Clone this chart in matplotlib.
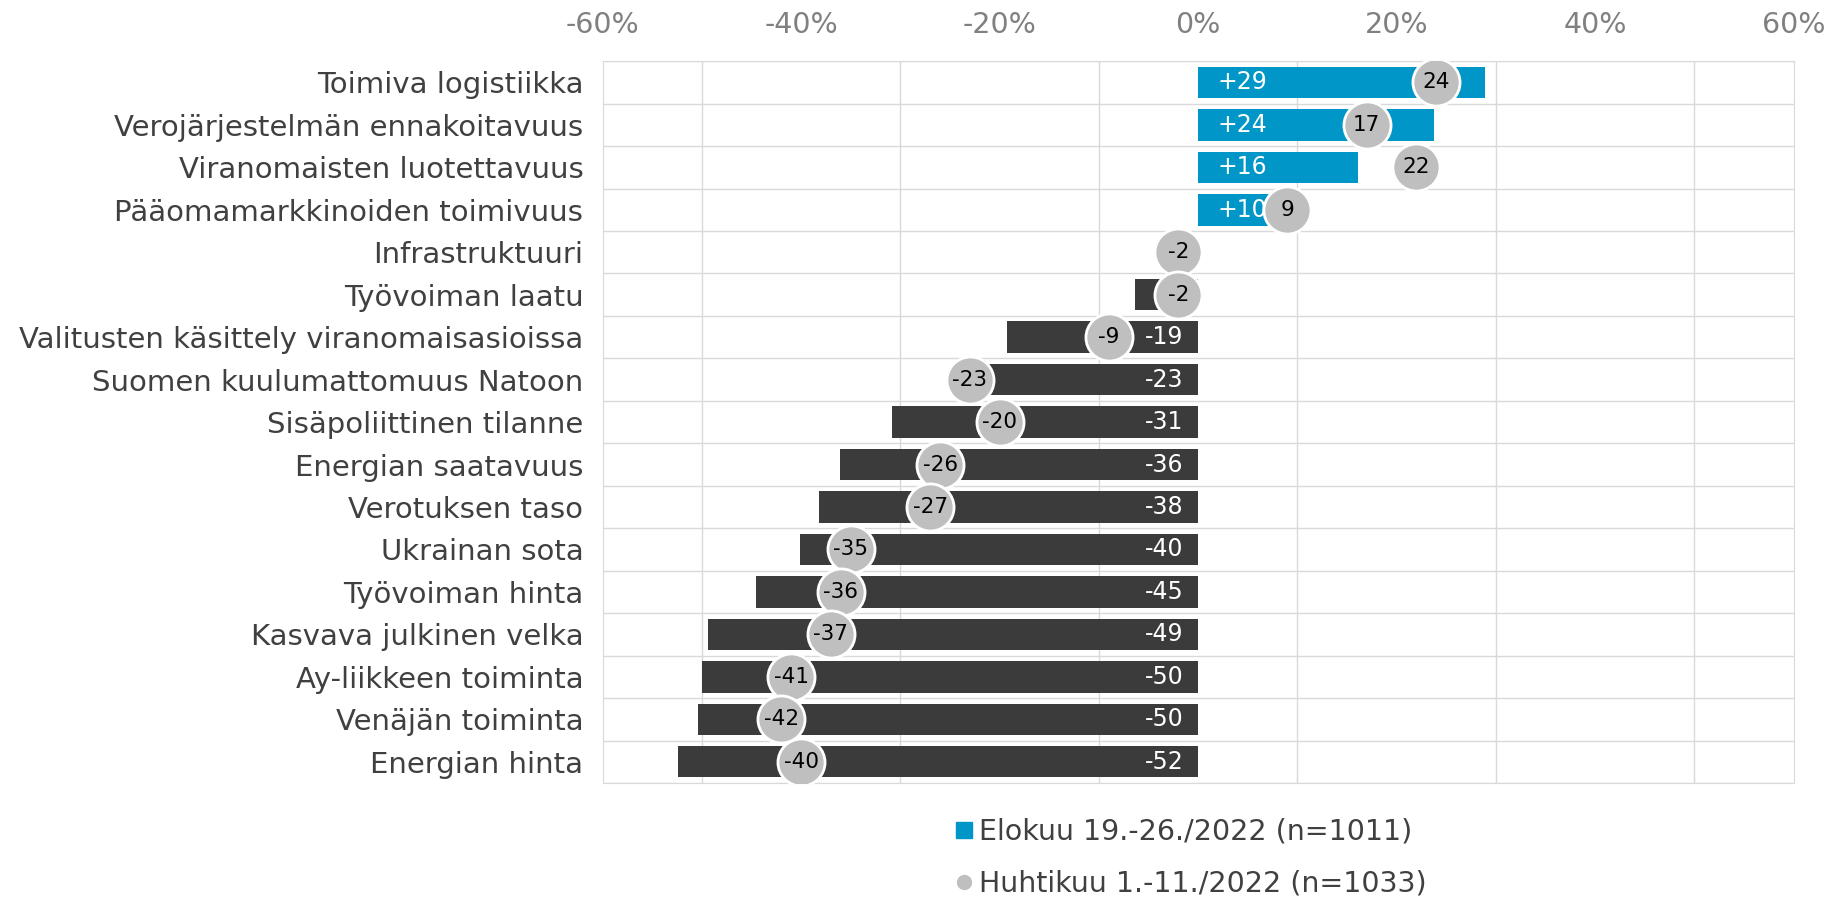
import matplotlib.pyplot as plt
from matplotlib.lines import Line2D

# datos
categorias = [
    "Toimiva logistiikka",
    "Verojärjestelmän ennakoitavuus",
    "Viranomaisten luotettavuus",
    "Pääomamarkkinoiden toimivuus",
    "Infrastruktuuri",
    "Työvoiman laatu",
    "Valitusten käsittely viranomaisasioissa",
    "Suomen kuulumattomuus Natoon",
    "Sisäpoliittinen tilanne",
    "Energian saatavuus",
    "Verotuksen taso",
    "Ukrainan sota",
    "Työvoiman hinta",
    "Kasvava julkinen velka",
    "Ay-liikkeen toiminta",
    "Venäjän toiminta",
    "Energian hinta",
]
elokuu = [28.9, 23.8, 16.1, 10.1, -3.6, -6.4, -19.3, -23.2, -30.8, -36.1,
          -38.2, -40.1, -44.6, -49.4, -50.0, -50.4, -52.4]
huhtikuu = [24, 17, 22, 9, -2, -2, -9, -23, -20, -26, -27, -35, -36, -37, -41, -42, -40]
ticks = [-60, -40, -20, 0, 20, 40, 60]

azul = "#0096C8"
oscuro = "#3B3B3B"
gris = "#BFBFBF"

fig = plt.figure(figsize=(18.32, 9), dpi=100)
ax = fig.add_axes([0.329, 0.13, 0.65, 0.802])

y = list(range(len(categorias)))
colores = [azul if v > 0 else oscuro for v in elokuu]
ax.barh(y, elokuu, height=0.74, color=colores, zorder=2)

# etiquetas dentro de las barras
for yi, v in zip(y, elokuu):
    if v > 0:
        ax.text(2.0, yi, f"+{round(v)}", color="white", fontsize=17,
                va="center", ha="left", zorder=3)
    else:
        ax.text(-1.5, yi, f"-{abs(round(v))}", color="white", fontsize=17,
                va="center", ha="right", zorder=3)

# puntos de abril
ax.scatter(huhtikuu, y, s=1150, color=gris, edgecolor="white", linewidth=2, zorder=4)
for yi, v in zip(y, huhtikuu):
    ax.text(v, yi, f"{v}", color="black", fontsize=15.5, va="center", ha="center", zorder=5)

ax.set_xlim(-60, 60)
ax.set_ylim(len(categorias) - 0.5, -0.5)
ax.set_yticks(y)
ax.set_yticklabels(categorias, fontsize=21, color="#404040")
ax.set_xticks(ticks)
ax.set_xticks(range(-60, 61, 10), minor=True)
ax.set_xticklabels([f"{t}%" for t in ticks], fontsize=20.5, color="#808080")
ax.xaxis.tick_top()
ax.tick_params(axis="both", which="both", length=0)
ax.tick_params(axis="x", pad=16)
ax.tick_params(axis="y", pad=14)

# rejilla
for yy in [i + 0.5 for i in range(-1, len(categorias))]:
    ax.axhline(yy, color="#D9D9D9", linewidth=1, zorder=0)
ax.grid(axis="x", which="minor", color="#D9D9D9", linewidth=1, zorder=0)
for s in ax.spines.values():
    s.set_color("#D9D9D9")

handles = [
    Line2D([], [], marker="s", linestyle="none", color=azul, markersize=11),
    Line2D([], [], marker="o", linestyle="none", color=gris, markersize=10),
]
fig.legend(handles, ["Elokuu 19.-26./2022 (n=1011)", "Huhtikuu 1.-11./2022 (n=1033)"],
           loc="upper left", bbox_to_anchor=(0.514, 0.104), frameon=False,
           fontsize=20.5, labelcolor="#404040", handletextpad=0.1,
           handlelength=0.8, labelspacing=0.85, borderaxespad=0)

plt.savefig("out.png", dpi=100)
